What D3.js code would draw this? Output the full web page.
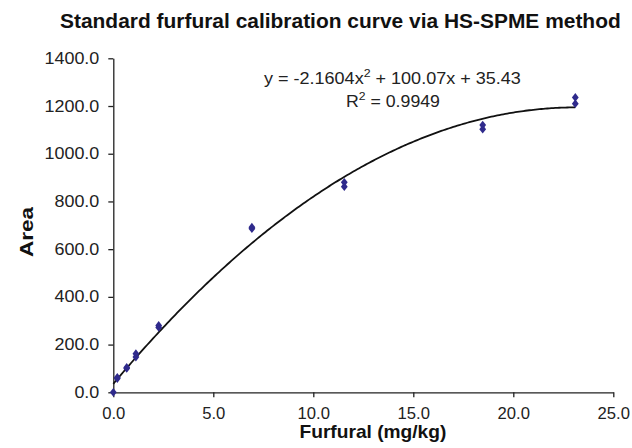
<!DOCTYPE html>
<html>
<head>
<meta charset="utf-8">
<script src="https://cdn.jsdelivr.net/npm/d3@7"></script>
<style>
  body { margin: 0; background: #fff; }
  text { font-family: "Liberation Sans", Arial, sans-serif; }
</style>
</head>
<body>
<div id="chart"></div>
<script>
// data points (two replicates per level)
const conc = [0, 0.2, 0.2, 0.67, 0.67, 1.13, 1.13, 2.27, 2.27, 6.93, 6.93, 11.55, 11.55, 18.47, 18.47, 23.1, 23.1];
const area = [0, 58, 62, 100, 104, 148, 162, 272, 280, 686, 692, 862, 880, 1103, 1120, 1210, 1236];

// trendline coefficients shown on chart: a*x^2 + b*x + c
const coef = [-2.1604, 100.07, 35.43];

const xTicks = [0, 5, 10, 15, 20, 25];
const yTicks = [0, 200, 400, 600, 800, 1000, 1200, 1400];

const points = conc.map((c, i) => ({ x: c, y: area[i] }));

// dimensions
const W = 632, H = 448;
const margin = { top: 58.3, right: 18.7, bottom: 55.7, left: 113.3 };
const width = W - margin.left - margin.right;
const height = H - margin.top - margin.bottom;

const x = d3.scaleLinear().domain([0, 25]).range([0, width]);
const y = d3.scaleLinear().domain([0, 1400]).range([height, 0]);

const svgRoot = d3.select("#chart").append("svg")
  .attr("width", W)
  .attr("height", H);

const svg = svgRoot.append("g")
  .attr("transform", "translate(" + margin.left + "," + margin.top + ")");

// stretch a text horizontally so it spans the given width
function fit(sel, x0, y0, target, extra) {
  sel.attr("x", 0).attr("y", 0).attr("text-anchor", "start");
  const w = sel.node().getComputedTextLength();
  sel.attr("transform", "translate(" + x0 + "," + y0 + ")" + (extra || "") + " scale(" + (target / w) + ",1)");
}

// axes
const gx = svg.append("g")
  .attr("transform", "translate(0," + height + ")")
  .call(d3.axisBottom(x).tickValues(xTicks).tickFormat(d3.format(".1f"))
    .tickSize(5).tickSizeOuter(0).tickPadding(10));

const gy = svg.append("g")
  .call(d3.axisLeft(y).tickValues(yTicks).tickFormat(d3.format(".1f"))
    .tickSize(5).tickSizeOuter(0).tickPadding(9));

[gx, gy].forEach(g => {
  g.selectAll("path, line").attr("stroke", "#222").attr("stroke-width", 1.3);
  g.selectAll("text")
    .attr("fill", "#222")
    .style("font-size", "16px")
    .style("font-family", "'Liberation Sans', Arial, sans-serif");
});
gx.selectAll("text").attr("transform", "scale(1.04,1)");
gy.selectAll("text").attr("x", -14 / 1.12).attr("transform", "scale(1.12,1)");

// trendline
const maxX = d3.max(conc);
const curveX = d3.range(0, maxX, 0.1).concat([maxX]);
const poly = v => coef[0] * v * v + coef[1] * v + coef[2];

svg.append("path")
  .datum(curveX)
  .attr("fill", "none")
  .attr("stroke", "#111")
  .attr("stroke-width", 1.8)
  .attr("d", d3.line().x(d => x(d)).y(d => y(poly(d))));

// markers
svg.selectAll(".pt")
  .data(points)
  .enter().append("path")
  .attr("class", "pt")
  .attr("transform", d => "translate(" + x(d.x) + "," + y(d.y) + ") scale(1,0.75)")
  .attr("d", d3.symbol().type(d3.symbolDiamond).size(40))
  .attr("fill", "#2f2a8c");

// equation
const eq = svgRoot.append("text")
  .style("font-size", "16px")
  .attr("fill", "#222")
  .html('y = -2.1604x<tspan dy="-7" font-size="11">2</tspan><tspan dy="7"> + 100.07x + 35.43</tspan>');
fit(eq, 264, 84, 257);

const r2 = svgRoot.append("text")
  .style("font-size", "16px")
  .attr("fill", "#222")
  .html('R<tspan dy="-7" font-size="11">2</tspan><tspan dy="7"> = 0.9949</tspan>');
fit(r2, 346, 107, 94);

// title
const title = svgRoot.append("text")
  .style("font-size", "20px")
  .style("font-weight", "bold")
  .attr("fill", "#111")
  .text("Standard furfural calibration curve via HS-SPME method");
fit(title, 60, 28.3, 561);

// x label
const xl = svgRoot.append("text")
  .style("font-size", "18px")
  .style("font-weight", "bold")
  .attr("fill", "#111")
  .text("Furfural (mg/kg)");
fit(xl, 299.5, 438, 147);

// y label
const yl = svgRoot.append("text")
  .style("font-size", "18px")
  .style("font-weight", "bold")
  .attr("fill", "#111")
  .text("Area");
fit(yl, 33, 257, 50, " rotate(-90)");
</script>
</body>
</html>
